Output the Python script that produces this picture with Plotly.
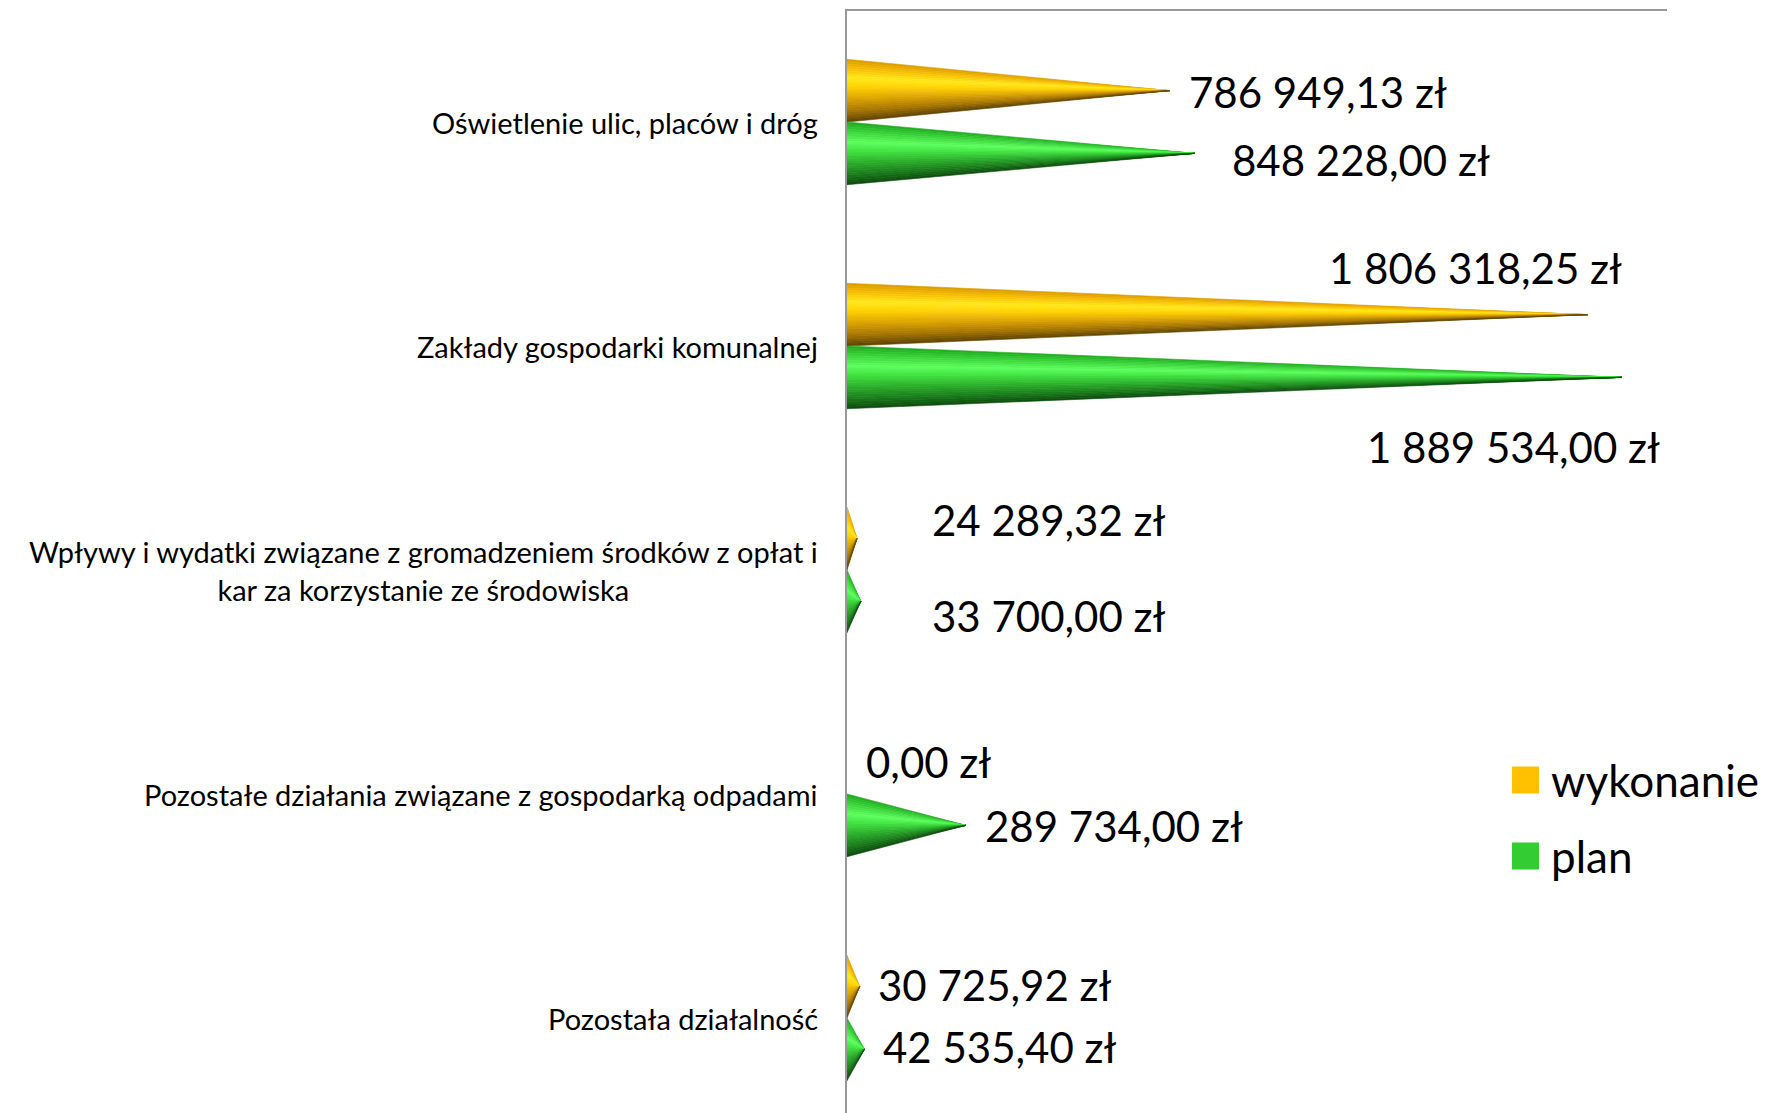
import plotly.graph_objects as go

categories = [
    "Oświetlenie ulic, placów i dróg",
    "Zakłady gospodarki komunalnej",
    "Wpływy i wydatki związane z gromadzeniem środków z opłat i<br>kar za korzystanie ze środowiska",
    "Pozostałe działania związane z gospodarką odpadami",
    "Pozostała działalność",
]
wykonanie = [786949.13, 1806318.25, 24289.32, 0.00, 30725.92]
plan = [848228.00, 1889534.00, 33700.00, 289734.00, 42535.40]

# label anchors (left edge in zł, vertical offset in category units) - as placed in the original
wyk_label_pos = [(829000, -0.134), (1171000, -0.348), (202000, -0.223), (41000, -0.143), (71000, -0.147)]
plan_label_pos = [(934000, 0.17), (1263000, 0.451), (202000, 0.205), (332000, 0.143), (83000, 0.13)]

YELLOW_STOPS = [(0, "#d99a00"), (0.12, "#f5b800"), (0.3, "#ffe81a"), (0.45, "#ffd000"),
                (0.65, "#d9a000"), (0.85, "#a07000"), (1.0, "#5e4200")]
GREEN_STOPS = [(0, "#1fa81f"), (0.12, "#33cc33"), (0.32, "#5cff5c"), (0.48, "#3de03d"),
               (0.68, "#28a828"), (0.86, "#187818"), (1.0, "#0c4a0c")]

W, H = 1766, 1113
OFF = 8  # default body margin of the html page
PLOT_L, PLOT_R, PLOT_T, PLOT_B = 847, 1667, 11, 1113
ROW0, ROW_STEP = 122, 224  # pixel centre of first category, spacing
HALF = 0.14  # half-thickness of a cone in category units
XMAX = 2000000


def fmt(v):
    s = f"{v:,.2f}".replace(",", " ").replace(".", ",")
    return s + " zł"


def hex2rgb(h):
    return tuple(int(h[i:i + 2], 16) for i in (1, 3, 5))


def grad(stops, t):
    for (t0, c0), (t1, c1) in zip(stops, stops[1:]):
        if t0 <= t <= t1:
            f = (t - t0) / (t1 - t0) if t1 > t0 else 0
            a, b = hex2rgb(c0), hex2rgb(c1)
            return "rgb(%d,%d,%d)" % tuple(round(a[i] + (b[i] - a[i]) * f) for i in range(3))
    return stops[-1][1]


def cone(fig, value, yc, stops, n=26):
    if value <= 0:
        return
    top = yc - HALF
    for i in range(n):
        f0, f1 = i / n, (i + 1) / n
        col = grad(stops, (f0 + f1) / 2)
        fig.add_trace(go.Scatter(
            x=[0, value, 0, 0], y=[top + 2 * HALF * f0, yc, top + 2 * HALF * f1, top + 2 * HALF * f0],
            mode="lines", fill="toself", fillcolor=col, line=dict(color=col, width=0.6),
            hoverinfo="skip", showlegend=False,
        ))


fig = go.Figure()
for k in range(len(categories)):
    cone(fig, wykonanie[k], k - HALF, YELLOW_STOPS)
    cone(fig, plan[k], k + HALF, GREEN_STOPS)

VALUE_FONT = dict(family="Lato, sans-serif", size=42, color="#000000")
for k in range(len(categories)):
    for val, pos in ((wykonanie[k], wyk_label_pos[k]), (plan[k], plan_label_pos[k])):
        fig.add_annotation(x=pos[0], y=k + pos[1], text=fmt(val), showarrow=False,
                           xanchor="left", yanchor="middle", font=VALUE_FONT)

for k, name in enumerate(categories):
    fig.add_annotation(xref="paper", x=0, xshift=-27, y=k, text=name, showarrow=False,
                       xanchor="right", yanchor="middle", align="center",
                       font=dict(family="Lato, sans-serif", size=29, color="#000000"))


def px_x(p):
    return (p - PLOT_L) / (PLOT_R - PLOT_L)


def px_y(p):
    return (PLOT_B - p) / (PLOT_B - PLOT_T)


# legend drawn by hand to get the large squares
for (label, color, yc) in (("wykonanie", "#ffc000", 780), ("plan", "#33cc33", 856)):
    fig.add_shape(type="rect", xref="paper", yref="paper",
                  x0=px_x(1512), x1=px_x(1539), y0=px_y(yc + 13.5), y1=px_y(yc - 13.5),
                  fillcolor=color, line=dict(width=0))
    fig.add_annotation(xref="paper", yref="paper", x=px_x(1549), y=px_y(yc), text=label,
                       showarrow=False, xanchor="left", yanchor="middle",
                       font=dict(family="Lato, sans-serif", size=44, color="#000000"))

y_top = (PLOT_T - ROW0) / ROW_STEP
y_bot = (PLOT_B - ROW0) / ROW_STEP
fig.update_layout(
    width=W - OFF, height=H - OFF,
    paper_bgcolor="white", plot_bgcolor="white",
    margin=dict(l=PLOT_L - OFF, r=W - PLOT_R, t=PLOT_T - OFF, b=H - PLOT_B, autoexpand=False),
    showlegend=False,
    xaxis=dict(range=[0, XMAX], side="top", showgrid=False, zeroline=False, showticklabels=False,
               ticks="", showline=True, linecolor="#999999", linewidth=2),
    yaxis=dict(range=[y_bot, y_top], showgrid=False, zeroline=False, showticklabels=False,
               ticks="", showline=True, linecolor="#999999", linewidth=2),
)

fig.write_html("out.html")
